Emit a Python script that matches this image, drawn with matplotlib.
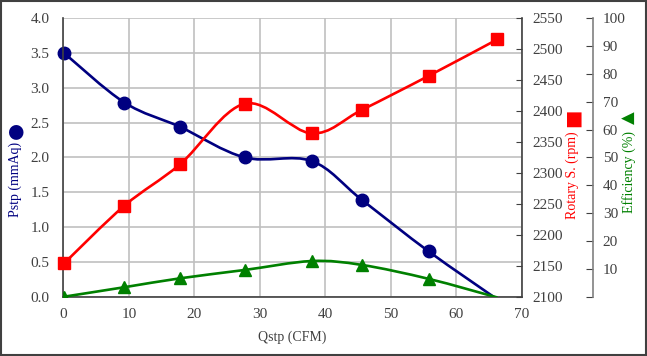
import matplotlib
matplotlib.use("Agg")
import matplotlib.pyplot as plt
import numpy as np
from matplotlib.path import Path
from matplotlib.patches import PathPatch, Rectangle

# data
qstp = [0.1, 9.3, 17.8, 27.7, 37.9, 45.6, 55.8, 66.3]
pstp = [3.50, 2.79, 2.44, 2.00, 1.95, 1.39, 0.65, -0.04]
rpm = [2154, 2247, 2314, 2412, 2364, 2402, 2457, 2516]
eff = [0.0, 3.4, 6.6, 9.6, 12.8, 11.4, 6.4, -0.3]

x_ticks = [0, 10, 20, 30, 40, 50, 60, 70]
p_ticks = [0.0, 0.5, 1.0, 1.5, 2.0, 2.5, 3.0, 3.5, 4.0]
rpm_ticks = list(range(2100, 2551, 50))
eff_ticks = list(range(0, 101, 10))

NAVY = "#000080"
RED = "#ff0000"
GREEN = "#008000"
TXT = "#404040"

plt.rcParams["font.family"] = ["Liberation Serif", "DejaVu Sans"]
plt.rcParams["font.size"] = 11


def smooth_path(x, y):
    # Catmull-Rom style bezier through the points (like Excel's smoothed line)
    pts = np.column_stack([x, y]).astype(float)
    n = len(pts)
    verts = [pts[0]]
    codes = [Path.MOVETO]
    for i in range(n - 1):
        p0 = pts[max(i - 1, 0)]
        p1 = pts[i]
        p2 = pts[i + 1]
        p3 = pts[min(i + 2, n - 1)]
        verts += [p1 + (p2 - p0) / 6, p2 - (p3 - p1) / 6, p2]
        codes += [Path.CURVE4] * 3
    return Path(verts, codes)


def in_range(vals, lo):
    # Excel skips markers for points below the axis minimum
    return [i for i, v in enumerate(vals) if v >= lo]


fig = plt.figure(figsize=(6.47, 3.56), dpi=100)
ax = fig.add_axes([0.0981, 0.1666, 0.7082, 0.782])
ax.set_xlim(0, 70)
ax.set_ylim(0, 4.0)
ax.set_xticks(x_ticks)
ax.set_yticks(p_ticks)
ax.set_yticklabels([f"{v:.1f}" for v in p_ticks])
ax.grid(True, color="#c0c0c0", lw=1.2)
ax.set_axisbelow(True)
ax.tick_params(length=0, colors=TXT, labelsize=11)
ax.tick_params(axis="y", pad=10)
ax.tick_params(axis="x", pad=8)
for s in ["left", "bottom"]:
    ax.spines[s].set_color(TXT)
    ax.spines[s].set_linewidth(1.2)
ax.spines["top"].set_visible(False)
ax.spines["right"].set_visible(False)
ax.set_xlabel("Qstp (CFM)", color=TXT, fontsize=10, labelpad=7)

# rotary speed axis
ax2 = ax.twinx()
ax2.set_ylim(2100, 2550)
ax2.set_yticks(rpm_ticks)
ax2.tick_params(direction="in", length=4, colors=TXT, labelsize=11, pad=8)
ax2.spines["right"].set_color(TXT)
ax2.spines["right"].set_linewidth(1.2)
for s in ["left", "top", "bottom"]:
    ax2.spines[s].set_visible(False)

# efficiency axis
ax3 = ax.twinx()
ax3.spines["right"].set_position(("axes", 1.1556))
ax3.set_ylim(0, 100)
ax3.set_yticks(eff_ticks)
ax3.set_yticklabels(["" if v == 0 else str(v) for v in eff_ticks])
ax3.tick_params(direction="in", length=5, colors=TXT, labelsize=11, pad=7)
ax3.spines["right"].set_color("#808080")
ax3.spines["right"].set_linewidth(1.2)
for s in ["left", "top", "bottom"]:
    ax3.spines[s].set_visible(False)

# series
ax.add_patch(PathPatch(smooth_path(qstp, pstp), fill=False, ec=NAVY, lw=1.9))
ax.plot(qstp, pstp, ls="none", marker="o", ms=9, color=NAVY,
        markevery=in_range(pstp, 0), clip_on=False)

ax2.add_patch(PathPatch(smooth_path(qstp, rpm), fill=False, ec=RED, lw=1.9))
ax2.plot(qstp, rpm, ls="none", marker="s", ms=8, color=RED,
         markevery=in_range(rpm, 2100), clip_on=False)

ax3.add_patch(PathPatch(smooth_path(qstp, eff), fill=False, ec=GREEN, lw=1.9))
ax3.plot(qstp, eff, ls="none", marker="^", ms=9, color=GREEN,
         markevery=in_range(eff, 0))

# axis titles with their marker glyphs
W, H = 647, 356
fig.text(15 / W, 1 - 179 / H, "Pstp (mmAq)", rotation=90, color=NAVY,
         ha="center", va="center", fontsize=10)
fig.text(15 / W, 1 - 131 / H, "●", rotation=90, color=NAVY,
         ha="center", va="center", fontsize=14, family="DejaVu Sans")
fig.text(572 / W, 1 - 175 / H, "Rotary S. (rpm)", rotation=90, color=RED,
         ha="center", va="center", fontsize=10)
fig.text(572 / W, 1 - 118 / H, "■", rotation=90, color=RED,
         ha="center", va="center", fontsize=14, family="DejaVu Sans")
fig.text(629 / W, 1 - 172 / H, "Efficiency (%)", rotation=90, color=GREEN,
         ha="center", va="center", fontsize=10)
fig.text(629 / W, 1 - 118 / H, "▲", rotation=90, color=GREEN,
         ha="center", va="center", fontsize=12, family="DejaVu Sans")

# outer frame
fig.patches.append(Rectangle((0.002, 0.003), 0.996, 0.994, transform=fig.transFigure,
                             fill=False, ec="#404040", lw=1.5))

fig.savefig("out.png", dpi=100)
